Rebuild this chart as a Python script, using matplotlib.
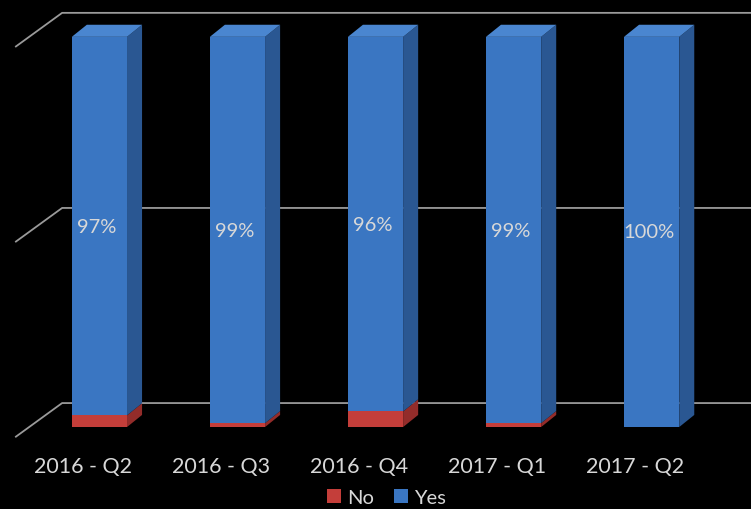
import matplotlib
matplotlib.use("Agg")
import matplotlib.pyplot as plt
from matplotlib.patches import Polygon, Patch

quarters = ["2016 - Q2", "2016 - Q3", "2016 - Q4", "2017 - Q1", "2017 - Q2"]
no_vals = [3, 1, 4, 1, 0]
yes_vals = [97, 99, 96, 99, 100]
grid_vals = [0, 50, 100]

blue_front, blue_side, blue_top = "#3a76c2", "#2a5792", "#4a86d0"
red_front, red_side, red_top = "#c43e3a", "#932c2a", "#d65450"
text_col = "#d8d8d8"
grid_col = "#9a9a9a"

plt.rcParams["font.family"] = ["Lato", "DejaVu Sans"]

fig = plt.figure(figsize=(7.51, 5.10), dpi=100, facecolor="black")
ax = fig.add_axes([0, 0, 1, 1])
ax.set_facecolor("black")
ax.set_xlim(-0.72, 4.72)
ax.set_ylim(-21, 109.7)
ax.axis("off")

# back wall grid (oblique projection)
wall_front_x, wall_back_x = -0.61, -0.27
wall_front_dv, wall_back_dv = -2.6, 6.15
for g in grid_vals:
    ax.plot([wall_front_x, wall_back_x, 4.72],
            [g + wall_front_dv, g + wall_back_dv, g + wall_back_dv],
            color=grid_col, lw=1.3, zorder=1, solid_capstyle="butt")

w = 0.4
dx, dy = 0.109, 3.1
xs = list(range(len(quarters)))


def box(x, v0, v1, front, side, top, draw_top):
    ax.bar(x, v1 - v0, bottom=v0, width=w, color=front, edgecolor="none", zorder=3)
    r = x + w / 2
    ax.add_patch(Polygon([(r, v0), (r + dx, v0 + dy), (r + dx, v1 + dy), (r, v1)],
                         closed=True, facecolor=side, edgecolor="none", zorder=3))
    if draw_top:
        l = x - w / 2
        ax.add_patch(Polygon([(l, v1), (l + dx, v1 + dy), (r + dx, v1 + dy), (r, v1)],
                             closed=True, facecolor=top, edgecolor="none", zorder=3))


for x, n, y in zip(xs, no_vals, yes_vals):
    if n > 0:
        box(x, 0, n, red_front, red_side, red_top, False)
    box(x, n, n + y, blue_front, blue_side, blue_top, True)
    ax.text(x - 0.02, n + y / 2, f"{y}%", ha="center", va="center",
            color=text_col, fontsize=14.5, zorder=4)
    ax.text(x - 0.12, -10, quarters[x], ha="center", va="center", color=text_col, fontsize=15.5)

handles = [Patch(facecolor=red_front, edgecolor="none", label="No"),
           Patch(facecolor=blue_front, edgecolor="none", label="Yes")]
fig.legend(handles=handles, loc="lower center", bbox_to_anchor=(0.515, -0.03), ncol=2,
           frameon=False, fontsize=14.5, labelcolor=text_col, handlelength=0.7,
           handleheight=0.7, handletextpad=0.3, columnspacing=1.0)

fig.savefig("out.png", dpi=100, facecolor="black")
